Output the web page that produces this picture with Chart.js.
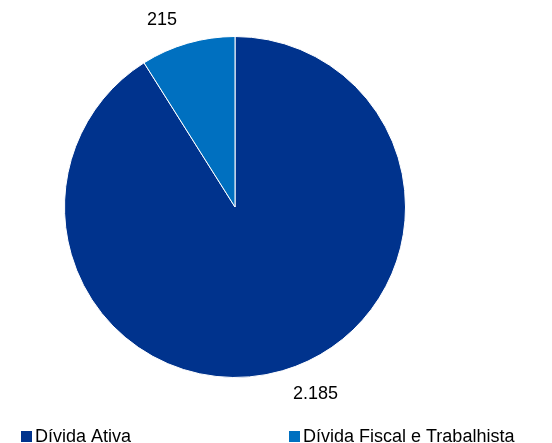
<!DOCTYPE html>
<html>
<head>
<meta charset="utf-8">
<script src="https://cdn.jsdelivr.net/npm/chart.js@4"></script>
<style>
  html, body { margin: 0; padding: 0; background: #fff; }
  #wrap { width: 552px; height: 443px; }
</style>
</head>
<body>
<div id="wrap"><canvas id="c"></canvas></div>
<script>
// dados do gráfico
const labels = ["Dívida Ativa", "Dívida Fiscal e Trabalhista"];
const values = [2185, 215];
const cores = ["#00338D", "#0070C0"];

const fonte = "'Liberation Sans', Arial, sans-serif";
const fmt = v => v.toLocaleString("pt-BR");

// rótulos fora das fatias
const rotulos = {
  id: "rotulos",
  afterDatasetsDraw(chart) {
    const ctx = chart.ctx;
    const meta = chart.getDatasetMeta(0);
    ctx.save();
    ctx.font = "18px " + fonte;
    ctx.fillStyle = "#000";
    ctx.textAlign = "center";
    ctx.textBaseline = "middle";
    meta.data.forEach((arc, i) => {
      const mid = (arc.startAngle + arc.endAngle) / 2;
      const r = arc.outerRadius + 24;
      const dx = Math.cos(mid), dy = Math.sin(mid);
      const txt = fmt(chart.data.datasets[0].data[i]);
      const w = ctx.measureText(txt).width;
      const x = arc.x + dx * r + Math.sign(dx) * (w / 2 + 4);
      const y = arc.y + dy * r;
      ctx.fillText(txt, x, y);
    });
    ctx.restore();
  }
};

// legenda na parte de baixo
const legenda = {
  id: "legenda",
  afterDraw(chart) {
    const ctx = chart.ctx;
    ctx.save();
    ctx.font = "18px " + fonte;
    ctx.textBaseline = "alphabetic";
    chart.data.labels.forEach((lab, i) => {
      const x = 21 + i * 268;
      ctx.fillStyle = chart.data.datasets[0].backgroundColor[i];
      ctx.fillRect(x, 431, 11, 11);
      ctx.fillStyle = "#000";
      ctx.fillText(lab, x + 14, 442);
    });
    ctx.restore();
  }
};

new Chart(document.getElementById("c"), {
  type: "pie",
  data: {
    labels: labels,
    datasets: [{
      data: values,
      backgroundColor: cores,
      borderColor: "#fff",
      borderWidth: 1
    }]
  },
  options: {
    responsive: true,
    maintainAspectRatio: false,
    animation: false,
    layout: { padding: { left: 64, right: 146, top: 36, bottom: 65 } },
    plugins: {
      legend: { display: false },
      tooltip: { enabled: false }
    }
  },
  plugins: [rotulos, legenda]
});
</script>
</body>
</html>
